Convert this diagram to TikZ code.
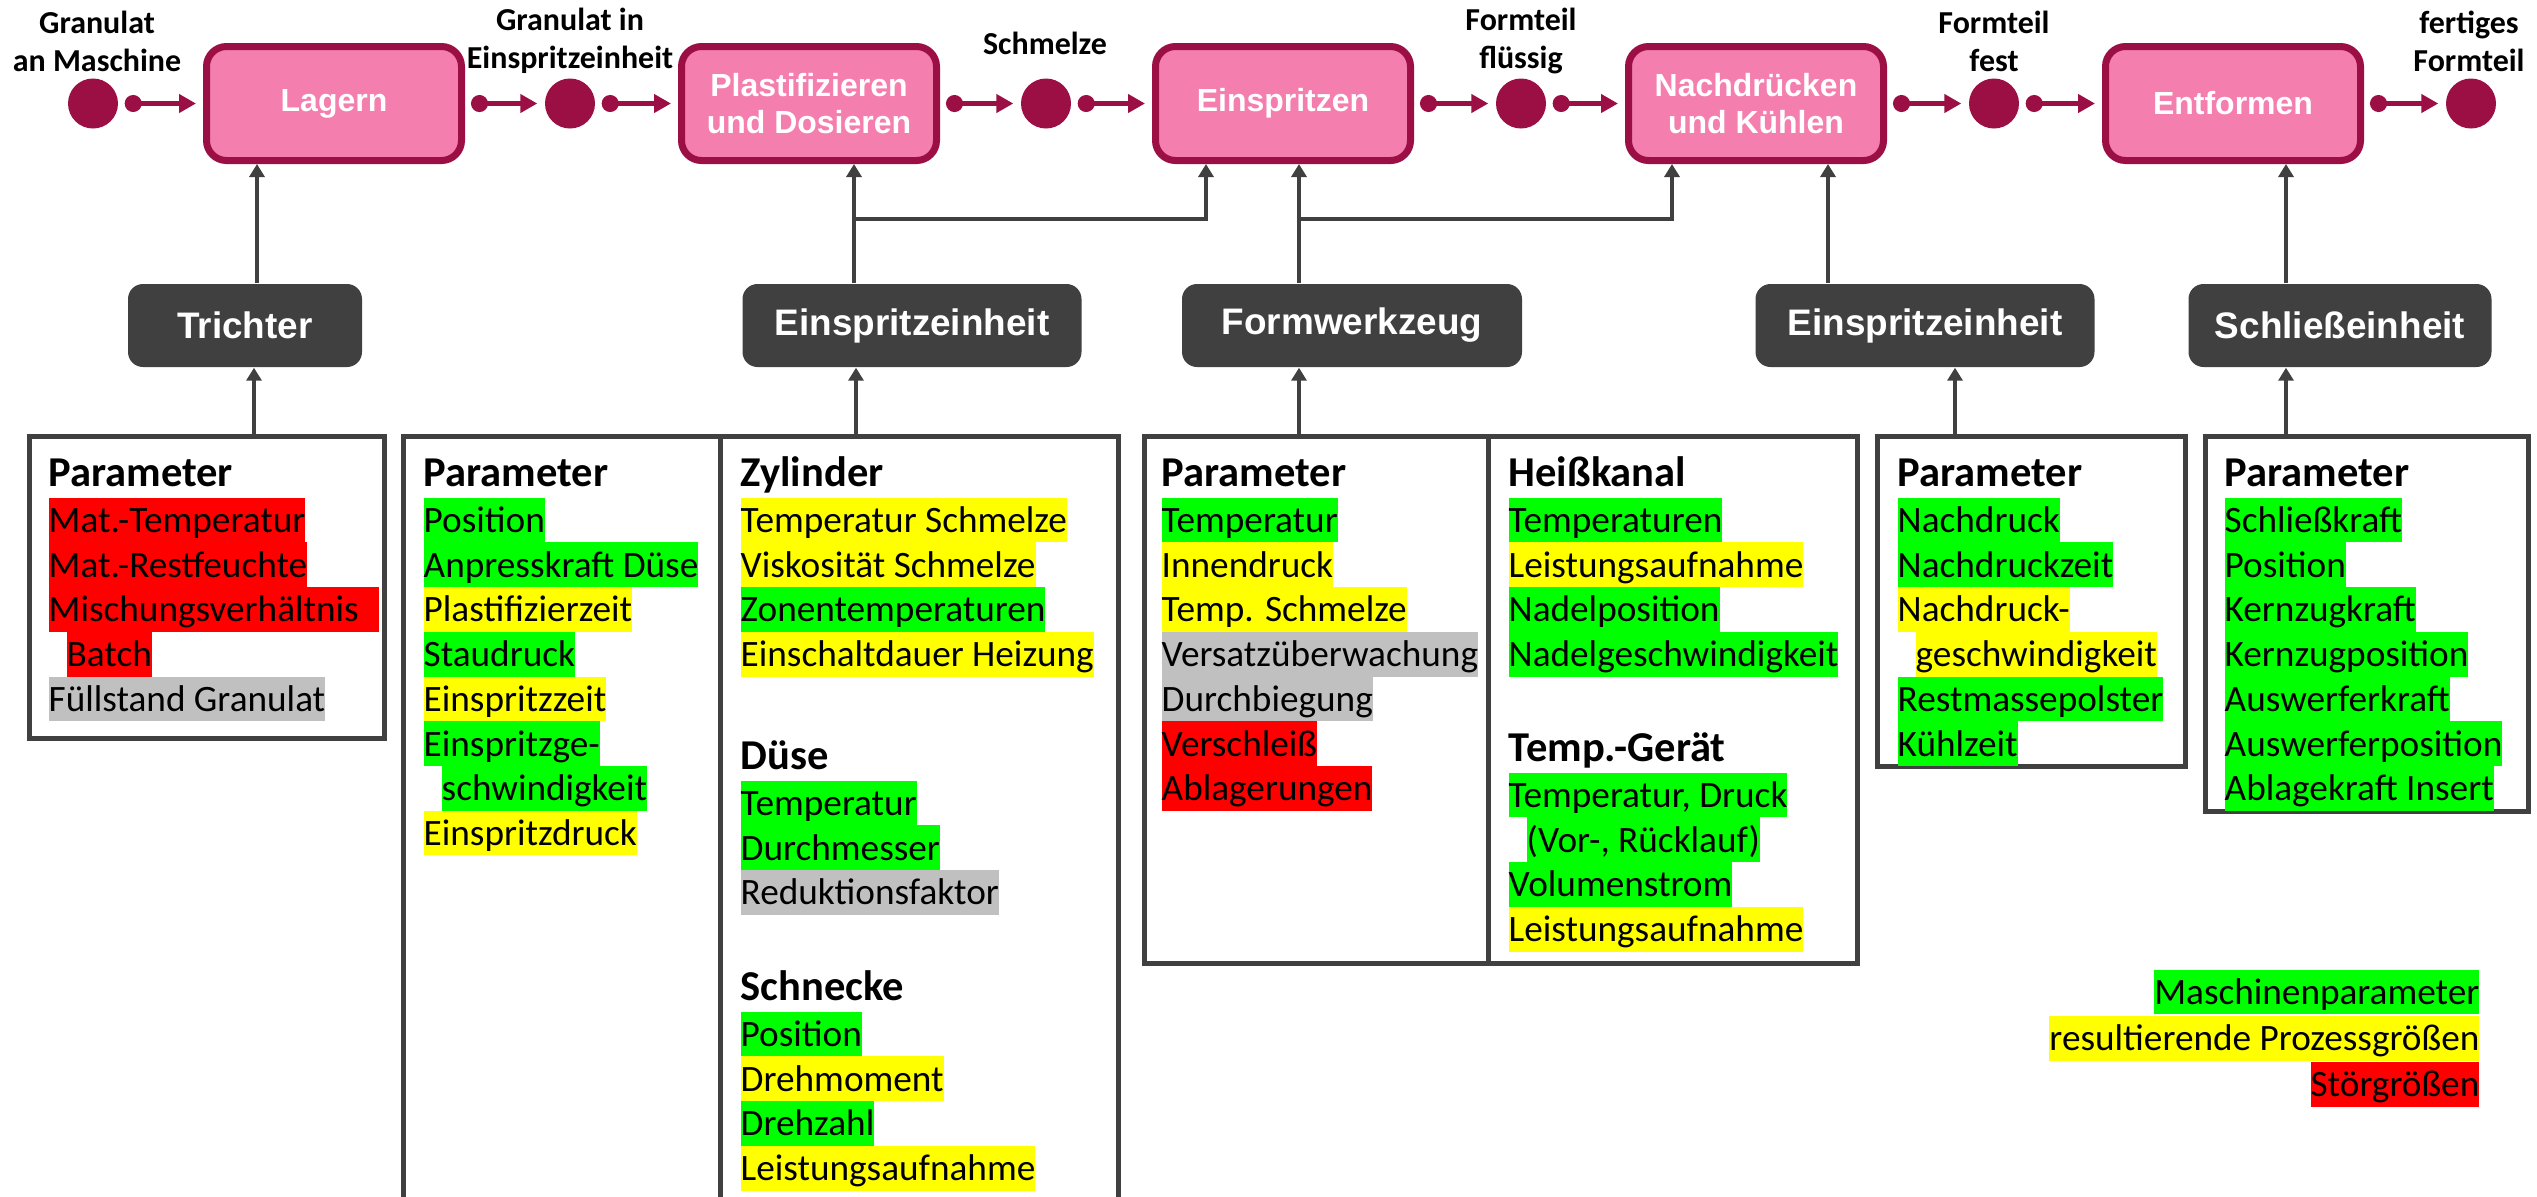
\documentclass[tikz,border=0pt]{standalone}
\usepackage{fontspec}
\setmainfont{Carlito}
\newfontfamily\arialfont{Liberation Sans}
\usetikzlibrary{arrows.meta, positioning, calc}

\definecolor{procfill}{HTML}{F47FAF}
\definecolor{procborder}{HTML}{9C0F45}
\definecolor{unitfill}{HTML}{404040}
\definecolor{boxline}{HTML}{404040}
\definecolor{hlgreen}{HTML}{00FF00}
\definecolor{hlyellow}{HTML}{FFFF00}
\definecolor{hlred}{HTML}{FF0000}
\definecolor{hlgray}{HTML}{C0C0C0}

\begin{document}
\begin{tikzpicture}[x=0.1mm, y=-0.1mm]

\tikzset{
    procbox/.style={rectangle, rounded corners=2mm, draw=procborder, line width=0.7mm,
                    fill=procfill, text=white, minimum width=25.5mm, minimum height=11.4mm,
                    align=center, font=\arialfont\bfseries\fontsize{9.1pt}{10.5pt}\selectfont},
    unitbox/.style={rectangle, rounded corners=1.5mm, fill=unitfill, text=white,
                    minimum height=8.3mm, font=\arialfont\bfseries\fontsize{10.5pt}{12pt}\selectfont},
    matnode/.style={circle, fill=procborder, minimum size=5mm, inner sep=0pt},
    toplabel/.style={align=center, inner sep=0pt, font=\bfseries\fontsize{9.1pt}{10.8pt}\selectfont},
    parbox/.style={rectangle, draw=boxline, line width=0.5mm, anchor=north west, inner sep=0pt},
    divider/.style={draw=boxline, line width=0.5mm},
    head/.style={anchor=base west, inner sep=0pt, font=\bfseries\fontsize{12.1pt}{14pt}\selectfont},
    item/.style={anchor=north west, inner sep=0pt, text height=9.9pt, text depth=2.82pt,
                 font=\fontsize{10.6pt}{12.72pt}\selectfont},
    hlmp/.style={fill=hlgreen},
    hlpg/.style={fill=hlyellow},
    hlsg/.style={fill=hlred},
    hlgr/.style={fill=hlgray},
    flow/.style={draw=procborder, line width=0.45mm,
                 {Circle[length=1.7mm]}-{Triangle[length=1.7mm, width=1.8mm]},
                 shorten <=0.6mm, shorten >=0.7mm},
    feed/.style={draw=boxline, line width=0.4mm, -{Triangle[length=1.3mm, width=1.5mm]}},
}

\fill[white] (0,0) rectangle (2537,1196);
\useasboundingbox (0,0) rectangle (2537,1196);

% ---------------------------------------------------------------- process chain
\foreach \x [count=\n] in {93,570,1046,1521,1994,2471}
    \node[matnode] (c\n) at (\x,103.5) {};

\node[procbox] (lagern) at (334,103.5)  {Lagern};
\node[procbox] (plast)  at (809,103.5)  {Plastifizieren\\und Dosieren};
\node[procbox] (einspr) at (1283,103.5) {Einspritzen};
\node[procbox] (nachdr) at (1756,103.5) {Nachdrücken\\und Kühlen};
\node[procbox] (entf)   at (2233,103.5) {Entformen};

\node[toplabel] (l1) at (97,41)   {Granulat\\an Maschine};
\node[toplabel] (l2) at (570,41)  {Granulat in\\Einspritzeinheit};
\node[toplabel] (l3) at (1045,43) {Schmelze};
\node[toplabel] (l4) at (1521,41) {Formteil\\flüssig};
\node[toplabel] (l5) at (1994,41) {Formteil\\fest};
\node[toplabel] (l6) at (2469,41) {fertiges\\Formteil};

\draw[flow] (c1.east) -- (lagern.west);
\draw[flow] (lagern.east) -- (c2.west);
\draw[flow] (c2.east) -- (plast.west);
\draw[flow] (plast.east) -- (c3.west);
\draw[flow] (c3.east) -- (einspr.west);
\draw[flow] (einspr.east) -- (c4.west);
\draw[flow] (c4.east) -- (nachdr.west);
\draw[flow] (nachdr.east) -- (c5.west);
\draw[flow] (c5.east) -- (entf.west);
\draw[flow] (entf.east) -- (c6.west);

% ---------------------------------------------------------------- machine units
\node[unitbox, minimum width=23.4mm] (trichter) at (245,325.5)  {Trichter};
\node[unitbox, minimum width=33.9mm] (ee1)      at (912,325.5)  {Einspritzeinheit};
\node[unitbox, minimum width=34mm]   (fw)       at (1352,325.5) {Formwerkzeug};
\node[unitbox, minimum width=33.9mm] (ee2)      at (1925,325.5) {Einspritzeinheit};
\node[unitbox, minimum width=30.3mm] (se)       at (2340,325.5) {Schließeinheit};

\coordinate (bus) at (0,219);

\draw[feed] ([xshift=1.2mm]trichter.north) -- ([xshift=1.2mm]trichter.north |- lagern.south);
\draw[feed] ([xshift=-5.8mm]ee1.north) -- ([xshift=-5.8mm]ee1.north |- plast.south);
\draw[feed] ([xshift=-5.8mm]ee1.north |- bus) -| ([xshift=-7.7mm]einspr.south);
\draw[feed] ([xshift=-5.3mm]fw.north) -- ([xshift=-5.3mm]fw.north |- einspr.south);
\draw[feed] ([xshift=-5.3mm]fw.north |- bus) -| ([xshift=-8.4mm]nachdr.south);
\draw[feed] ([xshift=-9.7mm]ee2.north) -- ([xshift=-9.7mm]ee2.north |- nachdr.south);
\draw[feed] ([xshift=-5.4mm]se.north) -- ([xshift=-5.4mm]se.north |- entf.south);

% ---------------------------------------------------------------- parameter boxes
\node[parbox, minimum width=35.5mm, minimum height=30.2mm] (ptr)  at (27,434)   {};
\node[parbox, minimum width=71.5mm, minimum height=79.1mm] (pee1) at (401,434)  {};
\node[parbox, minimum width=71.3mm, minimum height=52.7mm] (pfw)  at (1142,434) {};
\node[parbox, minimum width=30.8mm, minimum height=33mm]   (pee2) at (1875,434) {};
\node[parbox, minimum width=32.3mm, minimum height=37.5mm] (pse)  at (2203,434) {};

\draw[divider] ($(pee1.north west)+(319,0)$) -- ($(pee1.south west)+(319,0)$);
\draw[divider] ($(pfw.north west)+(346,0)$) -- ($(pfw.south west)+(346,0)$);

\draw[feed] ([xshift=0.9mm]trichter.south |- ptr.north) -- ([xshift=0.9mm]trichter.south);
\draw[feed] ([xshift=-5.6mm]ee1.south |- pee1.north) -- ([xshift=-5.6mm]ee1.south);
\draw[feed] ([xshift=-5.3mm]fw.south |- pfw.north) -- ([xshift=-5.3mm]fw.south);
\draw[feed] ([xshift=3mm]ee2.south |- pee2.north) -- ([xshift=3mm]ee2.south);
\draw[feed] ([xshift=-5.4mm]se.south |- pse.north) -- ([xshift=-5.4mm]se.south);

% Trichter
\begin{scope}[shift={(48,497)}]
    \node[head] (tr-h) at (0,-11) {Parameter};
    \foreach \c/\t/\d [count=\i from 0] in {hlsg/Mat.-Temperatur/0, hlsg/Mat.-Restfeuchte/0,
            hlsg/{Mischungsverhältnis\hspace*{0.55em}}/0, hlsg/Batch/18, hlgr/Füllstand Granulat/0}
        \node[item, \c] (tr-\i) at (\d, \i*44.7) {\t};
\end{scope}

% Einspritzeinheit, Parameter
\begin{scope}[shift={(423,497)}]
    \node[head] (ep-h) at (0,-11) {Parameter};
    \foreach \c/\t/\d [count=\i from 0] in {hlmp/Position/0, hlmp/Anpresskraft Düse/0,
            hlpg/Plastifizierzeit/0, hlmp/Staudruck/0, hlpg/Einspritzzeit/0,
            hlmp/Einspritzge-/0, hlmp/schwindigkeit/18, hlpg/Einspritzdruck/0}
        \node[item, \c] (ep-\i) at (\d, \i*44.7) {\t};
\end{scope}

% Einspritzeinheit, Zylinder / Düse / Schnecke
\begin{scope}[shift={(740,497)}]
    \node[head] (zy-h) at (0,-11) {Zylinder};
    \foreach \c/\t [count=\i from 0] in {hlpg/Temperatur Schmelze, hlpg/Viskosität Schmelze,
            hlmp/Zonentemperaturen, hlpg/Einschaltdauer Heizung}
        \node[item, \c] (zy-\i) at (0, \i*44.7) {\t};
\end{scope}
\begin{scope}[shift={(740,780)}]
    \node[head] (du-h) at (0,-11) {Düse};
    \foreach \c/\t [count=\i from 0] in {hlmp/Temperatur, hlmp/Durchmesser, hlgr/Reduktionsfaktor}
        \node[item, \c] (du-\i) at (0, \i*44.7) {\t};
\end{scope}
\begin{scope}[shift={(740,1011)}]
    \node[head] (sn-h) at (0,-11) {Schnecke};
    \foreach \c/\t [count=\i from 0] in {hlmp/Position, hlpg/Drehmoment, hlmp/Drehzahl,
            hlpg/Leistungsaufnahme}
        \node[item, \c] (sn-\i) at (0, \i*44.7) {\t};
\end{scope}

% Formwerkzeug, Parameter
\begin{scope}[shift={(1161,497)}]
    \node[head] (fp-h) at (0,-11) {Parameter};
    \foreach \c/\t [count=\i from 0] in {hlmp/Temperatur, hlpg/Innendruck, hlpg/Temp. Schmelze,
            hlgr/Versatzüberwachung, hlgr/Durchbiegung, hlsg/Verschleiß, hlsg/Ablagerungen}
        \node[item, \c] (fp-\i) at (0, \i*44.7) {\t};
\end{scope}

% Formwerkzeug, Heißkanal / Temp.-Gerät
\begin{scope}[shift={(1508,497)}]
    \node[head] (hk-h) at (0,-11) {Heißkanal};
    \foreach \c/\t [count=\i from 0] in {hlmp/Temperaturen, hlpg/Leistungsaufnahme,
            hlmp/Nadelposition, hlmp/Nadelgeschwindigkeit}
        \node[item, \c] (hk-\i) at (0, \i*44.7) {\t};
\end{scope}
\begin{scope}[shift={(1508,772)}]
    \node[head] (tg-h) at (0,-11) {Temp.-Gerät};
    \foreach \c/\t/\d [count=\i from 0] in {hlmp/{Temperatur, Druck}/0, hlmp/{(Vor-, Rücklauf)}/18,
            hlmp/Volumenstrom/0, hlpg/Leistungsaufnahme/0}
        \node[item, \c] (tg-\i) at (\d, \i*44.7) {\t};
\end{scope}

% Einspritzeinheit (Nachdrücken), Parameter
\begin{scope}[shift={(1897,497)}]
    \node[head] (np-h) at (0,-11) {Parameter};
    \foreach \c/\t/\d [count=\i from 0] in {hlmp/Nachdruck/0, hlmp/Nachdruckzeit/0,
            hlpg/Nachdruck-/0, hlpg/geschwindigkeit/18, hlmp/Restmassepolster/0, hlmp/Kühlzeit/0}
        \node[item, \c] (np-\i) at (\d, \i*44.7) {\t};
\end{scope}

% Schließeinheit, Parameter
\begin{scope}[shift={(2224,497)}]
    \node[head] (sp-h) at (0,-11) {Parameter};
    \foreach \c/\t [count=\i from 0] in {hlmp/Schließkraft, hlmp/Position, hlmp/Kernzugkraft,
            hlmp/Kernzugposition, hlmp/Auswerferkraft, hlmp/Auswerferposition,
            hlmp/Ablagekraft Insert}
        \node[item, \c] (sp-\i) at (0, \i*44.7) {\t};
\end{scope}

% ---------------------------------------------------------------- legend
\node[item, hlmp, anchor=north east] (lg1) at (2480,969) {Maschinenparameter};
\node[item, hlpg, anchor=north east] (lg2) at (lg1.south east) {resultierende Prozessgrößen};
\node[item, hlsg, anchor=north east] (lg3) at (lg2.south east) {Störgrößen};

\end{tikzpicture}
\end{document}
